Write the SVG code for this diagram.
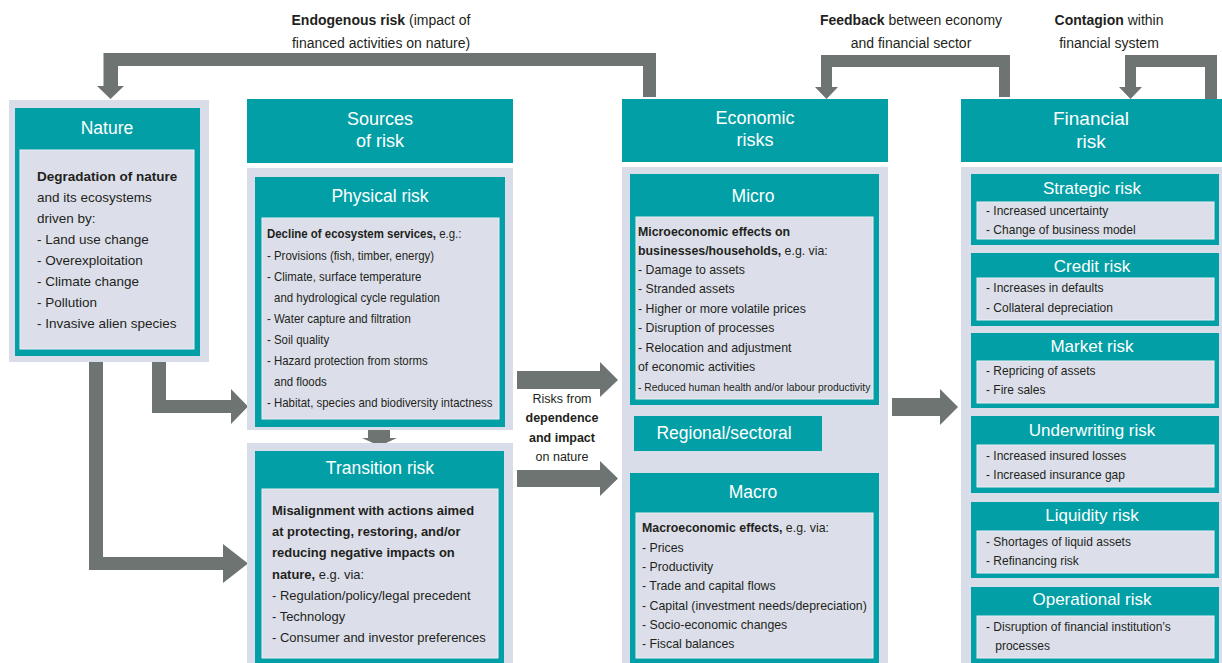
<svg xmlns="http://www.w3.org/2000/svg" width="1222" height="663" viewBox="0 0 1222 663">
<style>
.panel{fill:#d9dde9}
.teal{fill:#02a0a6}
.box{fill:#dcdfea;stroke:#eceef4;stroke-width:1}
.arr{fill:#6e7471}
text{font-family:"Liberation Sans",Arial,sans-serif;fill:#231f20}
.hdr{fill:#ffffff;font-size:17.5px;text-anchor:middle}
.fh{fill:#ffffff;font-size:17px;text-anchor:middle}
.lbl{font-size:14px;text-anchor:middle}
.b{font-weight:bold}
.t13{font-size:13px}
.t135{font-size:13.5px}
.mid{font-size:12.5px;text-anchor:middle}
</style>
<rect width="1222" height="663" fill="#ffffff"/>

<g id="connectors">
  <polygon class="arr" points="656,97 656,53 103.5,53 103.5,86 97,86 110.5,99 124,86 118,86 118,66 643,66 643,97"/>
  <polygon class="arr" points="1010,97 1010,55 821,55 821,87 815,87 826.5,99 838,87 832,87 832,67 999,67 999,97"/>
  <polygon class="arr" points="1217,99 1217,55 1125,55 1125,87 1119,87 1130.5,99 1142,87 1136,87 1136,67 1205,67 1205,99"/>
  <polygon class="arr" points="152,361 166,361 166,400 231,400 231,389 248,406.5 231,424 231,413 152,413"/>
  <polygon class="arr" points="89,361 103,361 103,557 223,557 223,544 248,563.5 223,583 223,570 89,570"/>
  <polygon class="arr" points="368,430 390,430 390,438 397,438 379.5,446 362,438 368,438"/>
  <polygon class="arr" points="517,371 600,371 600,362 618,380 600,397 600,389 517,389"/>
  <polygon class="arr" points="517,470 600,470 600,461 618,478.5 600,496 600,487 517,487"/>
  <polygon class="arr" points="892,398 940,398 940,389 958,407 940,425 940,416 892,416"/>
  <polygon class="arr" points="842.5,407 858,423 851,423 851,454 858,454 842.5,471 827,454 835,454 835,423 827,423"/>
  <text class="lbl" x="381" y="25"><tspan class="b">Endogenous risk</tspan> (impact of</text>
  <text class="lbl" x="381" y="48">financed activities on nature)</text>
  <text class="lbl" x="911" y="25"><tspan class="b">Feedback</tspan> between economy</text>
  <text class="lbl" x="911" y="48">and financial sector</text>
  <text class="lbl" x="1109" y="25"><tspan class="b">Contagion</tspan> within</text>
  <text class="lbl" x="1109" y="48">financial system</text>
  <text class="mid" x="562" y="402.5">Risks from</text>
  <text class="mid b" x="562" y="422">dependence</text>
  <text class="mid b" x="562" y="441.5">and impact</text>
  <text class="mid" x="562" y="461">on nature</text>
</g>

<g id="nature">
  <rect class="panel" x="9" y="100" width="200" height="262"/>
  <rect class="teal" x="15" y="108" width="185" height="248"/>
  <rect class="box" x="20" y="150" width="174" height="199"/>
  <text class="hdr" x="107" y="134">Nature</text>
  <g class="t135">
    <text x="37" y="181" class="b t135">Degradation of nature</text>
    <text x="37" y="202" class="t135">and its ecosystems</text>
    <text x="37" y="223" class="t135">driven by:</text>
    <text x="37" y="244" class="t135">- Land use change</text>
    <text x="37" y="265" class="t135">- Overexploitation</text>
    <text x="37" y="286" class="t135">- Climate change</text>
    <text x="37" y="307" class="t135">- Pollution</text>
    <text x="37" y="328" class="t135">- Invasive alien species</text>
  </g>
</g>

<g id="sources">
  <rect class="teal" x="247" y="99" width="266" height="64"/>
  <text class="hdr" x="380" y="125" style="font-size:18px">Sources</text>
  <text class="hdr" x="380" y="147" style="font-size:18px">of risk</text>
</g>

<g id="physical-risk">
  <rect class="panel" x="247" y="168" width="266" height="262"/>
  <rect class="teal" x="255" y="177" width="250" height="250"/>
  <rect class="box" x="262" y="218" width="237" height="201"/>
  <text class="hdr" x="380" y="202">Physical risk</text>
  <g transform="translate(267 0) scale(0.88 1)">
    <text class="t13" x="0" y="238.5"><tspan class="b">Decline of ecosystem services,</tspan> e.g.:</text>
    <text class="t13" x="0" y="259.6">- Provisions (fish, timber, energy)</text>
    <text class="t13" x="0" y="280.7">- Climate, surface temperature</text>
    <text class="t13" x="8" y="301.8">and hydrological cycle regulation</text>
    <text class="t13" x="0" y="322.9">- Water capture and filtration</text>
    <text class="t13" x="0" y="344">- Soil quality</text>
    <text class="t13" x="0" y="365.1">- Hazard protection from storms</text>
    <text class="t13" x="8" y="386.2">and floods</text>
    <text class="t13" x="0" y="407.3">- Habitat, species and biodiversity intactness</text>
  </g>
</g>

<g id="transition-risk">
  <rect class="panel" x="247" y="443" width="266" height="230"/>
  <rect class="teal" x="255" y="451" width="249" height="222"/>
  <rect class="box" x="262" y="489" width="236" height="169"/>
  <text class="hdr" x="380" y="474">Transition risk</text>
  <g transform="translate(272 0) scale(0.96 1)">
    <text class="t135 b" x="0" y="514.7">Misalignment with actions aimed</text>
    <text class="t135 b" x="0" y="536">at protecting, restoring, and/or</text>
    <text class="t135 b" x="0" y="557.3">reducing negative impacts on</text>
    <text class="t135" x="0" y="578.6"><tspan class="b">nature,</tspan> e.g. via:</text>
    <text class="t135" x="0" y="599.9">- Regulation/policy/legal precedent</text>
    <text class="t135" x="0" y="621.2">- Technology</text>
    <text class="t135" x="0" y="642.5">- Consumer and investor preferences</text>
  </g>
</g>

<g id="economic-risks">
  <rect class="teal" x="622" y="99" width="266" height="63"/>
  <text class="hdr" x="755" y="124" style="font-size:18px">Economic</text>
  <text class="hdr" x="755" y="146" style="font-size:18px">risks</text>
  <rect class="panel" x="622" y="167" width="266" height="506"/>
</g>

<g id="micro">
  <rect class="teal" x="630" y="174" width="249" height="231"/>
  <rect class="box" x="636" y="217" width="237" height="182"/>
  <text class="hdr" x="753" y="202">Micro</text>
  <g transform="translate(638 0) scale(0.95 1)">
    <text class="t13 b" x="0" y="236.5">Microeconomic effects on</text>
    <text class="t13" x="0" y="255"><tspan class="b">businesses/households,</tspan> e.g. via:</text>
    <text class="t13" x="0" y="274">- Damage to assets</text>
    <text class="t13" x="0" y="293.5">- Stranded assets</text>
    <text class="t13" x="0" y="313">- Higher or more volatile prices</text>
    <text class="t13" x="0" y="332.5">- Disruption of processes</text>
    <text class="t13" x="0" y="352">- Relocation and adjustment</text>
    <text class="t13" x="0" y="371.5">of economic activities</text>
  </g>
  <g transform="translate(638 0) scale(0.9 1)">
    <text x="0" y="391" style="font-size:11.5px">- Reduced human health and/or labour productivity</text>
  </g>
</g>

<g id="regional-sectoral">
  <rect class="teal" x="634" y="416" width="188" height="35"/>
  <text class="hdr" x="724" y="439">Regional/sectoral</text>
</g>

<g id="macro">
  <rect class="teal" x="630" y="473" width="249" height="200"/>
  <rect class="box" x="636" y="513" width="237" height="145"/>
  <text class="hdr" x="753" y="498">Macro</text>
  <g transform="translate(642 0) scale(0.95 1)">
    <text class="t13" x="0" y="532.5"><tspan class="b">Macroeconomic effects,</tspan> e.g. via:</text>
    <text class="t13" x="0" y="551.8">- Prices</text>
    <text class="t13" x="0" y="571.1">- Productivity</text>
    <text class="t13" x="0" y="590.4">- Trade and capital flows</text>
    <text class="t13" x="0" y="609.7">- Capital (investment needs/depreciation)</text>
    <text class="t13" x="0" y="629">- Socio-economic changes</text>
    <text class="t13" x="0" y="648.3">- Fiscal balances</text>
  </g>
</g>

<g id="financial-risk">
  <rect class="teal" x="961" y="99" width="261" height="63"/>
  <text class="hdr" x="1091" y="125" style="font-size:19px">Financial</text>
  <text class="hdr" x="1091" y="148" style="font-size:19px">risk</text>
  <rect class="panel" x="961" y="167" width="261" height="506"/>
</g>

<g id="strategic-risk">
  <rect class="teal" x="971" y="174" width="248" height="71"/>
  <rect class="box" x="977" y="202" width="237" height="37"/>
  <text class="fh" x="1092" y="194">Strategic risk</text>
  <g transform="translate(986 0) scale(0.925 1)">
    <text class="t13" x="0" y="215.5">- Increased uncertainty</text>
    <text class="t13" x="0" y="234.5">- Change of business model</text>
  </g>
</g>

<g id="credit-risk">
  <rect class="teal" x="971" y="253" width="248" height="73"/>
  <rect class="box" x="977" y="278" width="237" height="42"/>
  <text class="fh" x="1092" y="272">Credit risk</text>
  <g transform="translate(986 0) scale(0.925 1)">
    <text class="t13" x="0" y="292.5">- Increases in defaults</text>
    <text class="t13" x="0" y="312.5">- Collateral depreciation</text>
  </g>
</g>

<g id="market-risk">
  <rect class="teal" x="971" y="333" width="248" height="75"/>
  <rect class="box" x="977" y="361" width="237" height="42"/>
  <text class="fh" x="1092" y="352">Market risk</text>
  <g transform="translate(986 0) scale(0.925 1)">
    <text class="t13" x="0" y="375.5">- Repricing of assets</text>
    <text class="t13" x="0" y="394.5">- Fire sales</text>
  </g>
</g>

<g id="underwriting-risk">
  <rect class="teal" x="971" y="416" width="248" height="77"/>
  <rect class="box" x="977" y="445" width="237" height="42"/>
  <text class="fh" x="1092" y="436">Underwriting risk</text>
  <g transform="translate(986 0) scale(0.925 1)">
    <text class="t13" x="0" y="460.5">- Increased insured losses</text>
    <text class="t13" x="0" y="479.5">- Increased insurance gap</text>
  </g>
</g>

<g id="liquidity-risk">
  <rect class="teal" x="971" y="502" width="248" height="76"/>
  <rect class="box" x="977" y="531" width="237" height="42"/>
  <text class="fh" x="1092" y="521">Liquidity risk</text>
  <g transform="translate(986 0) scale(0.925 1)">
    <text class="t13" x="0" y="546.5">- Shortages of liquid assets</text>
    <text class="t13" x="0" y="565.5">- Refinancing risk</text>
  </g>
</g>

<g id="operational-risk">
  <rect class="teal" x="971" y="587" width="248" height="86"/>
  <rect class="box" x="977" y="616" width="237" height="42"/>
  <text class="fh" x="1092" y="605">Operational risk</text>
  <g transform="translate(986 0) scale(0.925 1)">
    <text class="t13" x="0" y="631.5">- Disruption of financial institution’s</text>
    <text class="t13" x="10" y="650.5">processes</text>
  </g>
</g>
</svg>
